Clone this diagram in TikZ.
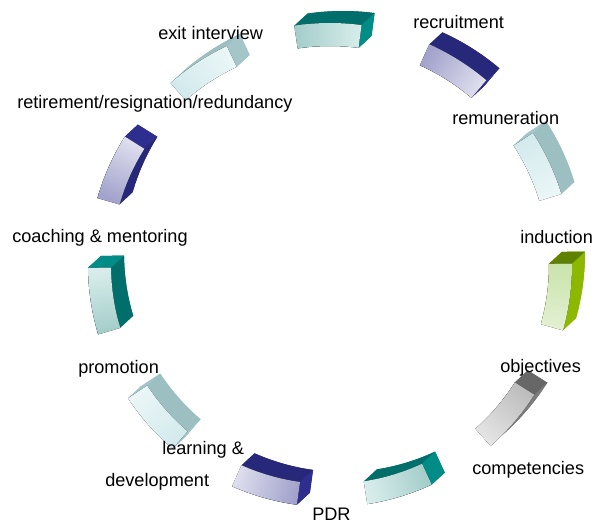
\documentclass[tikz,border=0pt]{standalone}
\usepackage{fontspec}
\setmainfont{Liberation Sans}
\usepackage{tikz}
% front face (A dark end, B light end), radial sides (R), end caps (E)
\definecolor{tealA}{HTML}{A3CDCA}
\definecolor{tealB}{HTML}{D8EDEB}
\definecolor{tealR}{HTML}{006E6A}
\definecolor{tealE}{HTML}{008C87}
\definecolor{navyA}{HTML}{A2A2CC}
\definecolor{navyB}{HTML}{DEDEEE}
\definecolor{navyR}{HTML}{28287A}
\definecolor{navyE}{HTML}{2E2E8E}
\definecolor{paleA}{HTML}{D3EAED}
\definecolor{paleB}{HTML}{EAF6F7}
\definecolor{paleR}{HTML}{9CBFC2}
\definecolor{paleE}{HTML}{A4C6C9}
\definecolor{limeA}{HTML}{CBE4AC}
\definecolor{limeB}{HTML}{E3F0D3}
\definecolor{limeR}{HTML}{8CB900}
\definecolor{limeE}{HTML}{5E8200}
\definecolor{greyA}{HTML}{BDBDBD}
\definecolor{greyB}{HTML}{E4E4E4}
\definecolor{greyR}{HTML}{7C7C7C}
\definecolor{greyE}{HTML}{676767}
% one ring block: #1 centre angle, #2 colour family
\newcommand{\blok}[2]{\pgfmathsetmacro{\cM}{#1}\pgfmathsetmacro{\aA}{\cM-8}\pgfmathsetmacro{\aB}{\cM+8}
  \pgfmathtruncatemacro{\vA}{(13*sin(\aA)-12*cos(\aA))>0}
  \pgfmathtruncatemacro{\vB}{(12*cos(\aB)-13*sin(\aB))>0}
  \fill[#2R,shift={(13,12)}] (\aA:219) arc[start angle=\aA,end angle=\aB,radius=219] -- (\aB:242) arc[start angle=\aB,end angle=\aA,radius=242] -- cycle;
  \foreach \rr in {219,242}
    \fill[#2R] (\aA:\rr) arc[start angle=\aA,end angle=\aB,radius=\rr] -- ([shift={(13,12)}]\aB:\rr) arc[start angle=\aB,end angle=\aA,radius=\rr] -- cycle;
  \ifnum\vA=1 \fill[#2E] (\aA:219) -- (\aA:242) -- ([shift={(13,12)}]\aA:242) -- ([shift={(13,12)}]\aA:219) -- cycle; \fi
  \ifnum\vB=1 \fill[#2E] (\aB:219) -- (\aB:242) -- ([shift={(13,12)}]\aB:242) -- ([shift={(13,12)}]\aB:219) -- cycle; \fi
  \fill[top color=#2A,bottom color=#2B,shading angle=\cM] (\aA:219) arc[start angle=\aA,end angle=\aB,radius=219] -- (\aB:242) arc[start angle=\aB,end angle=\aA,radius=242] -- cycle;}
\tikzset{lab/.style={anchor=base west,inner sep=0pt,font=\fontsize{13.6}{16}\selectfont}}

\begin{document}
\begin{tikzpicture}[x=0.75pt,y=0.75pt]
\useasboundingbox (-330,-259) rectangle (263,265);
\foreach \fam [count=\k from 0] in {teal,navy,pale,lime,grey,teal,navy,pale,teal,navy,pale}
  {\blok{90.5-32.727*\k}{\fam}}
\node[lab] (exit) at (-172,225) {exit interview};
\node[lab] (recr) at (83,236.5) {recruitment};
\node[lab] (retire) at (-313,156.5) {retirement/resignation/redundancy};
\node[lab] (remun) at (122,140) {remuneration};
\node[lab] (induct) at (190,21) {induction};
\node[lab] (coach) at (-318,22) {coaching \& mentoring};
\node[lab] (obj) at (170,-108) {objectives};
\node[lab] (promo) at (-252,-109) {promotion};
\node[lab] (learn) at (-168,-190) {learning \&};
\node[lab] (devel) at (-225,-221.5) {development};
\node[lab] (comp) at (142,-210) {competencies};
\node[lab] (pdr) at (-18,-256) {PDR};
\end{tikzpicture}
\end{document}
